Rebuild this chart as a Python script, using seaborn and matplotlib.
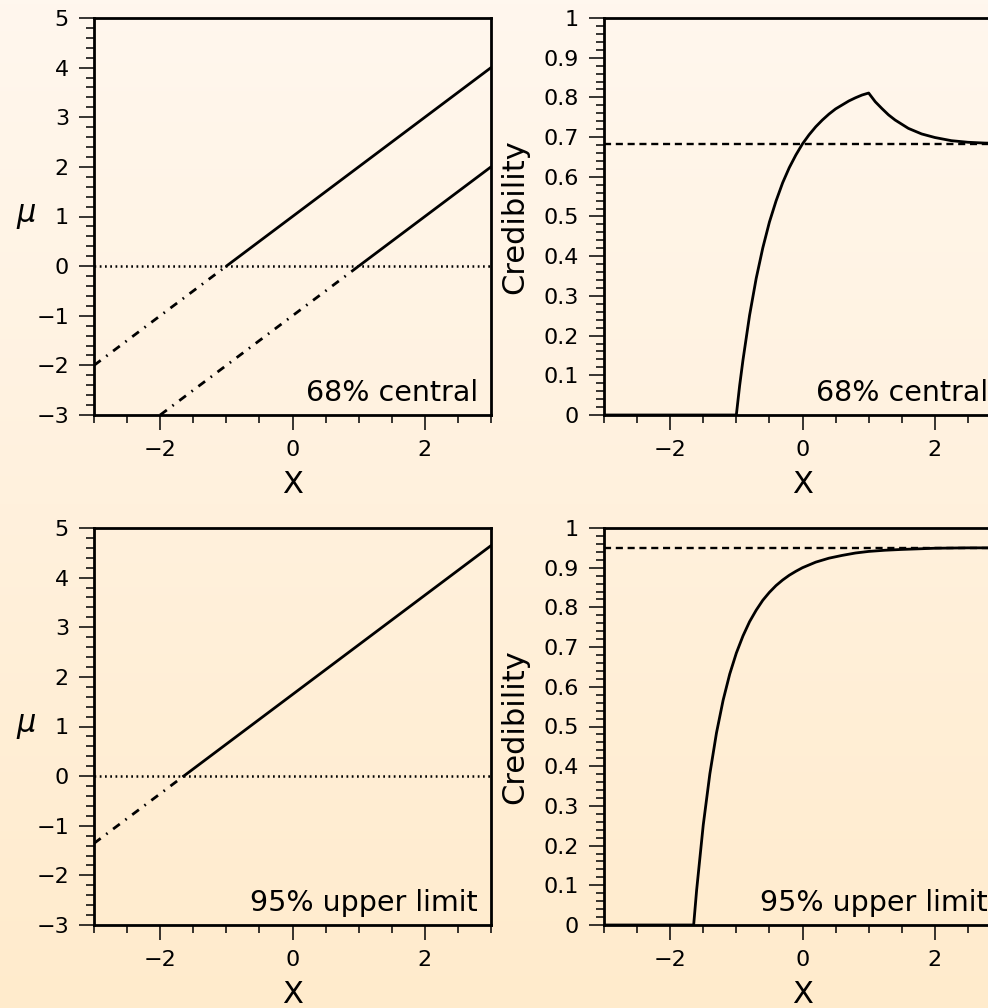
import matplotlib
import numpy as np
import matplotlib.pyplot as plt
import seaborn as sns
from matplotlib.ticker import MultipleLocator, FuncFormatter

matplotlib.use('Agg')

# ---- data ----
# 68% central: two limits mu = x + 1 and mu = x - 1, dash-dot where mu < 0
upper_solid_x = [-1.0, 3.0]
upper_solid_mu = [0.0, 4.0]
upper_dd_x = [-3.0, -1.0]
upper_dd_mu = [-2.0, 0.0]
lower_solid_x = [1.0, 3.0]
lower_solid_mu = [0.0, 2.0]
lower_dd_x = [-2.0, 1.0]
lower_dd_mu = [-3.0, 0.0]

# 95% upper limit: mu = x + 1.645
ul_solid_x = [-1.645, 3.0]
ul_solid_mu = [0.0, 4.645]
ul_dd_x = [-3.0, -1.645]
ul_dd_mu = [-1.355, 0.0]

# credibility curves
cred68_x = [-3.0, -1.0, -0.95, -0.9, -0.8, -0.7, -0.6, -0.5, -0.4, -0.3, -0.2, -0.1,
            0.0, 0.1, 0.2, 0.3, 0.4, 0.5, 0.6, 0.7, 0.8, 0.9, 1.0,
            1.1, 1.2, 1.3, 1.4, 1.6, 1.8, 2.0, 2.25, 2.5, 2.75, 3.0]
cred68_y = [0.0, 0.0, 0.074, 0.138, 0.251, 0.344, 0.421, 0.486, 0.539, 0.585, 0.623, 0.655,
            0.683, 0.706, 0.726, 0.743, 0.758, 0.771, 0.781, 0.791, 0.799, 0.806, 0.811,
            0.789, 0.772, 0.756, 0.743, 0.722, 0.708, 0.699, 0.691, 0.687, 0.685, 0.684]
cred95_x = [-3.0, -1.645, -1.6, -1.5, -1.4, -1.3, -1.2, -1.1, -1.0, -0.9, -0.8,
            -0.7, -0.6, -0.5, -0.4, -0.3, -0.2, -0.1, 0.0, 0.2, 0.4, 0.6, 0.8,
            1.0, 1.25, 1.5, 2.0, 2.5, 3.0]
cred95_y = [0.0, 0.0, 0.088, 0.252, 0.381, 0.484, 0.566, 0.632, 0.685, 0.728, 0.764,
            0.793, 0.818, 0.838, 0.855, 0.869, 0.881, 0.891, 0.900, 0.914, 0.924, 0.931, 0.937,
            0.941, 0.944, 0.946, 0.949, 0.950, 0.950]

level68 = 0.683
level95 = 0.95
labels = ['68% central', '95% upper limit']

# ---- style ----
sns.set_style("ticks")
plt.rcParams['font.family'] = ['DejaVu Sans']
plt.rcParams['text.color'] = 'black'
plt.rcParams['axes.labelcolor'] = 'black'
plt.rcParams['axes.linewidth'] = 2.0
plt.rcParams['xtick.major.size'] = 11
plt.rcParams['ytick.major.size'] = 11
plt.rcParams['xtick.minor.size'] = 6
plt.rcParams['ytick.minor.size'] = 6
plt.rcParams['xtick.major.width'] = 1.1
plt.rcParams['ytick.major.width'] = 1.1
plt.rcParams['xtick.minor.width'] = 1.1
plt.rcParams['ytick.minor.width'] = 1.1
plt.rcParams['xtick.direction'] = 'out'
plt.rcParams['ytick.direction'] = 'out'
plt.rcParams['xtick.color'] = 'black'
plt.rcParams['ytick.color'] = 'black'
plt.rcParams['xtick.labelcolor'] = 'black'
plt.rcParams['ytick.labelcolor'] = 'black'

fig = plt.figure(figsize=(9.88, 10.08), dpi=100)

# background gradient
bg = fig.add_axes([0, 0, 1, 1], zorder=-10)
top = np.array([255, 247, 238]) / 255.0
bottom = np.array([255, 235, 204]) / 255.0
t = np.linspace(0, 1, 256)[:, None]
grad = top[None, :] * (1 - t) + bottom[None, :] * t
bg.imshow(grad[:, None, :], aspect='auto', extent=[0, 1, 0, 1])
bg.axis('off')

W = 397 / 988
H = 397 / 1008
positions = {
    'tl': [94 / 988, 1 - 415 / 1008, W, H],
    'tr': [604 / 988, 1 - 415 / 1008, W, H],
    'bl': [94 / 988, 1 - 925 / 1008, W, H],
    'br': [604 / 988, 1 - 925 / 1008, W, H],
}

fmt = FuncFormatter(lambda v, p: ('%g' % v).replace('-', '\u2212'))
lw = 2.0
dashdot = (0, (3, 2.5, 0.6, 2.5))
dotted = (0, (0.7, 1.4))


def style_axes(ax, mu_panel):
    ax.set_facecolor('none')
    ax.set_xlim(-3, 3)
    ax.xaxis.set_major_locator(MultipleLocator(2))
    ax.xaxis.set_minor_locator(MultipleLocator(0.5))
    ax.xaxis.set_major_formatter(fmt)
    if mu_panel:
        ax.set_ylim(-3, 5)
        ax.yaxis.set_major_locator(MultipleLocator(1))
        ax.yaxis.set_minor_locator(MultipleLocator(0.2))
    else:
        ax.set_ylim(0, 1)
        ax.yaxis.set_major_locator(MultipleLocator(0.1))
        ax.yaxis.set_minor_locator(MultipleLocator(0.02))
    ax.yaxis.set_major_formatter(fmt)
    ax.tick_params(axis='both', which='major', labelsize=16, pad=7)
    ax.tick_params(top=False, right=False, which='both')
    for s in ax.spines.values():
        s.set_visible(True)
        s.set_color('black')
    ax.set_xlabel('X', fontsize=22)
    ax.xaxis.label.set_va('center')
    ax.xaxis.set_label_coords(0.5, -0.176)
    if mu_panel:
        ax.set_ylabel(r'$\mu$', fontsize=22, rotation=0, ha='center', va='center')
        ax.yaxis.set_label_coords(-0.171, 0.5)
    else:
        ax.set_ylabel('Credibility', fontsize=22, va='center')
        ax.yaxis.set_label_coords(-0.224, 0.5)


# ---- top left ----
ax = fig.add_axes(positions['tl'])
style_axes(ax, True)
ax.axhline(0, color='black', lw=1.8, linestyle=dotted)
sns.lineplot(x=upper_solid_x, y=upper_solid_mu, ax=ax, color='black', lw=lw)
sns.lineplot(x=upper_dd_x, y=upper_dd_mu, ax=ax, color='black', lw=lw, linestyle=dashdot)
sns.lineplot(x=lower_solid_x, y=lower_solid_mu, ax=ax, color='black', lw=lw)
sns.lineplot(x=lower_dd_x, y=lower_dd_mu, ax=ax, color='black', lw=lw, linestyle=dashdot)
ax.text(0.967, 0.035, labels[0], transform=ax.transAxes, ha='right', va='baseline', fontsize=20.5)

# ---- top right ----
ax = fig.add_axes(positions['tr'])
style_axes(ax, False)
ax.axhline(level68, color='black', lw=1.7, linestyle=(0, (3, 2)))
sns.lineplot(x=cred68_x, y=cred68_y, ax=ax, color='black', lw=lw)
ax.text(0.967, 0.035, labels[0], transform=ax.transAxes, ha='right', va='baseline', fontsize=20.5)

# ---- bottom left ----
ax = fig.add_axes(positions['bl'])
style_axes(ax, True)
ax.axhline(0, color='black', lw=1.8, linestyle=dotted)
sns.lineplot(x=ul_solid_x, y=ul_solid_mu, ax=ax, color='black', lw=lw)
sns.lineplot(x=ul_dd_x, y=ul_dd_mu, ax=ax, color='black', lw=lw, linestyle=dashdot)
ax.text(0.967, 0.035, labels[1], transform=ax.transAxes, ha='right', va='baseline', fontsize=20.5)

# ---- bottom right ----
ax = fig.add_axes(positions['br'])
style_axes(ax, False)
ax.axhline(level95, color='black', lw=1.7, linestyle=(0, (3, 2)))
sns.lineplot(x=cred95_x, y=cred95_y, ax=ax, color='black', lw=lw)
ax.text(0.967, 0.035, labels[1], transform=ax.transAxes, ha='right', va='baseline', fontsize=20.5)

plt.savefig('out.png', dpi=100)
plt.close()
